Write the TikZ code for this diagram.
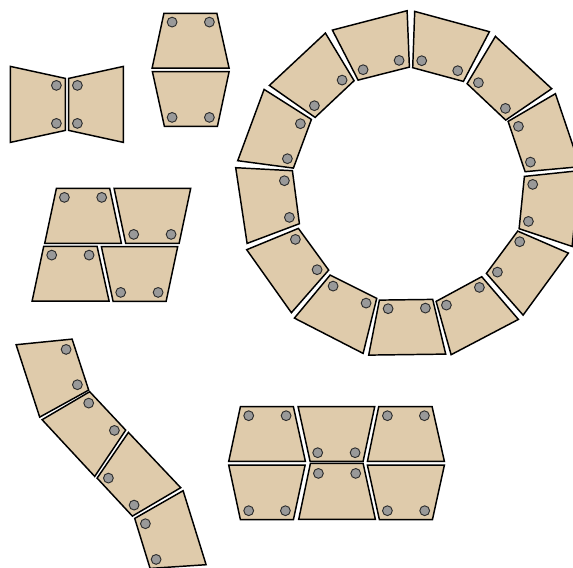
\documentclass[tikz,border=0pt]{standalone}
\tikzset{
  plate/.style={draw=black,fill=plateTan,line width=1.1pt,line join=miter},
  bolt/.style={draw=boltEdge,fill=boltGrey,line width=0.7pt}
}
\definecolor{plateTan}{RGB}{223,203,171}
\definecolor{boltGrey}{RGB}{153,153,153}
\definecolor{boltEdge}{RGB}{45,45,45}
\newcommand{\plate}[6]{%
  \path[plate] #1 -- #2 -- #3 -- #4 -- cycle;
  \path[bolt] #5 circle[radius=4.9];
  \path[bolt] #6 circle[radius=4.9];
}
\begin{document}
\begin{tikzpicture}[x=0.75pt,y=-0.75pt]
\path[use as bounding box] (0,0) rectangle (573,567);
\clip (0,0) rectangle (573,567);
\begin{scope}[shift={(0.4,0.4)}]
% bow tie
\plate{(10,66)}{(65,78)}{(65,130)}{(10,142)}{(56,85)}{(56,123)}
\plate{(68.3,78)}{(123,66)}{(123,142)}{(68.3,130)}{(77,85)}{(77,123)}
% vertical pair
\plate{(163.5,13)}{(216.5,13)}{(228.7,67.7)}{(151.7,67.7)}{(171.7,21.7)}{(209,21.7)}
\plate{(152,71.3)}{(228.7,71.3)}{(217,126)}{(164,126)}{(171.7,117)}{(209,117)}
% middle group
\plate{(56,188)}{(109.3,188)}{(121,243)}{(44.3,243)}{(64,197)}{(101.3,197)}
\plate{(113.7,188)}{(190.3,188)}{(178.7,243)}{(125.3,243)}{(133.3,234)}{(170.7,234)}
\plate{(43.3,246)}{(96.7,246)}{(108.7,300.7)}{(31.7,300.7)}{(51.3,254.7)}{(88.7,254.7)}
\plate{(101,246.3)}{(177.3,246.3)}{(165.7,301)}{(112.7,301)}{(120.3,292)}{(157.7,292)}
% ring
\plate{(332,29.7)}{(406.7,10.3)}{(409,66.7)}{(357.7,79.7)}{(362.7,69.3)}{(398.7,60)}
\plate{(414.3,11)}{(489,31.3)}{(463,81)}{(412.3,67.3)}{(421.3,60.3)}{(457.3,70.3)}
\plate{(495,36)}{(551.3,88.3)}{(505.3,119.7)}{(466.7,83.3)}{(478,82.3)}{(505,108)}
\plate{(555,93.3)}{(579.7,166.3)}{(524.7,171.3)}{(507.7,121)}{(518,126)}{(530,161.7)}
\plate{(524,176)}{(579.4,170.2)}{(571.7,246)}{(518.7,228.3)}{(532.3,184)}{(528,221)}
\plate{(517.3,230.7)}{(568,252.7)}{(522.7,314.7)}{(486,273)}{(519.3,241.3)}{(497,271.7)}
\plate{(481.3,276.3)}{(518,319)}{(450.7,354.3)}{(435.7,301)}{(479,287)}{(446,304.7)}
\plate{(379,299.7)}{(432.3,299)}{(445.3,353.7)}{(368.3,354.7)}{(387.7,308.3)}{(425,307.7)}
\plate{(329.7,274.7)}{(376.3,298)}{(362.7,353)}{(294,317.7)}{(332.7,285.7)}{(365.7,302.7)}
\plate{(298,228)}{(328.3,269.7)}{(291,312.3)}{(246.3,249.3)}{(295,239)}{(316.7,269.3)}
\plate{(235.3,167.3)}{(292,170.3)}{(299,223.3)}{(246.7,243)}{(284,180.3)}{(289,217)}
\plate{(263.7,89)}{(311,119)}{(293,167.7)}{(237.3,160.3)}{(300,123.3)}{(287,158.3)}
\plate{(325,32.7)}{(353.7,80.3)}{(314.7,117)}{(269,85)}{(341.7,79.7)}{(314,105.3)}
% chain
\plate{(15.7,344.3)}{(71.7,338.7)}{(88.3,389.7)}{(39.3,416.7)}{(65.7,349)}{(77,384.3)}
\plate{(89.3,391.3)}{(125.3,429.7)}{(94.3,476)}{(41.7,419.3)}{(88.3,402.7)}{(114,430)}
\plate{(128,432)}{(180.3,487.3)}{(132,515.7)}{(96.7,477.7)}{(108,477.7)}{(133.7,504.7)}
\plate{(182.7,490.3)}{(205.7,564.3)}{(149.7,568)}{(134.3,518)}{(145,523.3)}{(155.7,559)}
% bottom group
\plate{(240,406.3)}{(293,406.3)}{(305,461)}{(228.3,461)}{(248.3,415.3)}{(285.7,415.3)}
\plate{(297.7,406.3)}{(374.3,406.3)}{(362.7,461)}{(309.7,461)}{(317.3,452.3)}{(354.7,452.3)}
\plate{(378.3,406.3)}{(431.7,406.3)}{(444,461)}{(367,461)}{(387,415.3)}{(424,415.3)}
\plate{(228.3,464.7)}{(304.7,464.7)}{(293,519.3)}{(240,519.3)}{(248.3,510.3)}{(285,510.3)}
\plate{(310,463)}{(362.7,463)}{(375,519)}{(298.3,519)}{(318,473)}{(355.3,473)}
\plate{(367,464.7)}{(444,464.7)}{(432,519.3)}{(379,519.3)}{(387,510.3)}{(424.3,510.3)}
\end{scope}
\end{tikzpicture}
\end{document}
